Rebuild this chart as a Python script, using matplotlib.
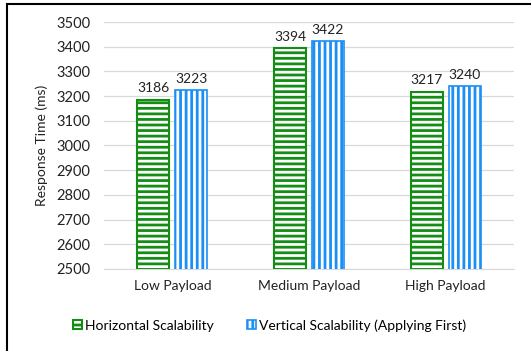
import numpy as np
import matplotlib.pyplot as plt
from matplotlib.patches import Rectangle, Patch

categories = ["Low Payload", "Medium Payload", "High Payload"]
horizontal = [3186, 3394, 3217]
vertical = [3223, 3422, 3240]
series_names = ["Horizontal Scalability", "Vertical Scalability (Applying First)"]

green = "#138d13"
blue = "#1b8ff5"

plt.rcParams["font.family"] = ["Lato", "DejaVu Sans"]
plt.rcParams["hatch.linewidth"] = 2.0

fig = plt.figure(figsize=(5.31, 3.51), dpi=100)
ax = fig.add_axes([0.196, 0.234, 0.772, 0.703])

x = np.arange(len(categories))
w = 0.234
off = 0.139

b1 = ax.bar(x - off, horizontal, w, facecolor="white",
            edgecolor=green, hatch="---", linewidth=1.5, zorder=3)
b2 = ax.bar(x + off, vertical, w, facecolor="white",
            edgecolor=blue, hatch="|||", linewidth=1.2, zorder=3)

for bars, vals in ((b1, horizontal), (b2, vertical)):
    for bar, v in zip(bars, vals):
        ax.annotate(str(v), (bar.get_x() + bar.get_width() / 2, v),
                    xytext=(0, 4), textcoords="offset points",
                    ha="center", va="bottom", fontsize=10, color="#222222")

ax.set_ylim(2500, 3500)
ax.set_xlim(-0.5, 2.5)
ax.set_yticks(np.arange(2500, 3501, 100))
ax.set_xticks(x)
ax.set_xticklabels(categories)
ax.tick_params(axis="y", length=0, labelsize=10.5, colors="#222222", pad=10)
ax.tick_params(axis="x", length=0, labelsize=10, colors="#222222", pad=8)
ax.yaxis.grid(True, color="#d9d9d9", linewidth=0.9)
ax.set_axisbelow(True)
for s in ("top", "right", "left"):
    ax.spines[s].set_visible(False)
ax.spines["bottom"].set_color("#d9d9d9")
ax.set_ylabel("Response Time (ms)", fontsize=10, color="#222222", labelpad=6)

handles = [Patch(facecolor="white", edgecolor=green, hatch="---", linewidth=1.5),
           Patch(facecolor="white", edgecolor=blue, hatch="|||", linewidth=1.2)]
fig.legend(handles, series_names, loc="center", bbox_to_anchor=(0.508, 0.073),
           ncol=2, frameon=False, fontsize=10, handlelength=0.6,
           handleheight=0.6, handletextpad=0.25, columnspacing=2.4)

# frame around the figure
fig.patches.append(Rectangle((7 / 531, -0.1), 1.2, 1 - 4 / 351 + 0.1,
                             transform=fig.transFigure, fill=False,
                             edgecolor="black", linewidth=1.5))

fig.savefig("out.png", dpi=100)
